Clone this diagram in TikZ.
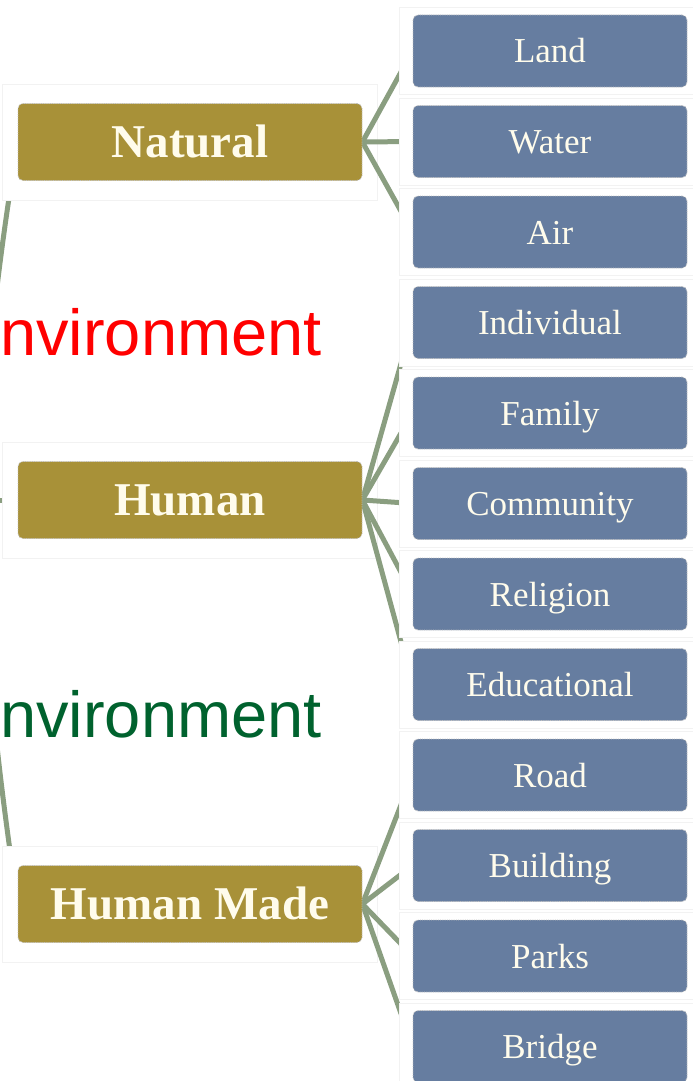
\documentclass[tikz,border=0pt]{standalone}
\usepackage{fontspec}
\setmainfont{Liberation Serif}
\newfontfamily\labelfont{Liberation Sans}
\usepackage{xcolor}
\usetikzlibrary{positioning,fit,backgrounds}

\definecolor{goldbox}{RGB}{168,145,56}
\definecolor{slatebox}{RGB}{102,125,160}
\definecolor{sage}{RGB}{138,158,128}
\definecolor{boxtext}{RGB}{255,252,236}
\definecolor{envgreen}{RGB}{0,98,46}

\begin{document}
\begin{tikzpicture}[
    x=1pt, y=1pt,
    group/.style={rectangle, draw=gray!50, densely dotted, line width=0.8pt, fill=goldbox, text=boxtext, minimum width=344pt, minimum height=77pt, inner sep=0pt, text height=40pt, text depth=10pt, rounded corners=5pt, font=\fontsize{47}{50}\selectfont\bfseries},
    item/.style={rectangle, draw=gray!50, densely dotted, line width=0.8pt, fill=slatebox, text=boxtext, minimum width=274pt, minimum height=72pt, inner sep=0pt, text height=32pt, text depth=8pt, rounded corners=5pt, font=\fontsize{35}{40}\selectfont},
    frame/.style={rectangle, draw=black!5, line width=0.6pt, fill=white},
    link/.style={draw=sage, line width=5pt},
    envtext/.style={anchor=base west, inner sep=0pt, font=\labelfont\fontsize{65}{70}\selectfont}
]
\useasboundingbox (0,0) rectangle (693,-1081);
\clip (0,0) rectangle (693,-1081);

% Left column - the three kinds of environment
\node[group] (nat) at (190,-142) {Natural};
\node[group] (hum) at (190,-500) {Human};
\node[group] (made) at (190,-904) {Human Made};

% Right column - what each kind is made of
\node[item] (land) at (550,-51) {Land};
\node[item, below=17.7pt of land] (water) {Water};
\node[item, below=17.7pt of water] (air) {Air};
\node[item, below=17.7pt of air] (indiv) {Individual};
\node[item, below=17.7pt of indiv] (family) {Family};
\node[item, below=17.7pt of family] (commun) {Community};
\node[item, below=17.7pt of commun] (relig) {Religion};
\node[item, below=17.7pt of relig] (educ) {Educational};
\node[item, below=17.7pt of educ] (road) {Road};
\node[item, below=17.7pt of road] (build) {Building};
\node[item, below=17.7pt of build] (parks) {Parks};
\node[item, below=17.7pt of parks] (bridge) {Bridge};

% Root sits just off the left edge
\coordinate (env) at (-20,-500);

% Labels
\node[envtext, text=red] (envtop) at (0,-355) {nvironment};
\node[envtext, text=envgreen] (envbot) at (0,-737) {nvironment};

\begin{scope}[on background layer]
% Root to groups
\draw[link] (env) to[bend left=3] (nat.west);
\draw[link] (env) -- (hum.west);
\draw[link] (env) to[bend right=3] (made.west);

% White frames behind the groups
\foreach \n in {nat,hum,made}
  \node[frame, fit=(\n), inner xsep=15pt, inner ysep=19pt] (f\n) {};

% Groups to items
\draw[link] (nat.east) -- (land.west);
\draw[link] (nat.east) -- (water.west);
\draw[link] (nat.east) -- (air.west);
\draw[link] (hum.east) -- (indiv.west);
\draw[link] (hum.east) -- (family.west);
\draw[link] (hum.east) -- (commun.west);
\draw[link] (hum.east) -- (relig.west);
\draw[link] (hum.east) -- (educ.west);
\draw[link] (made.east) -- (road.west);
\draw[link] (made.east) -- (build.west);
\draw[link] (made.east) -- (parks.west);
\draw[link] (made.east) -- (bridge.west);

% White frames behind the items
\foreach \n in {land,water,air,indiv,family,commun,relig,educ,road,build,parks,bridge}
  \node[frame, fit=(\n), inner xsep=13pt, inner ysep=7pt] (f\n) {};
\end{scope}

\end{tikzpicture}
\end{document}
